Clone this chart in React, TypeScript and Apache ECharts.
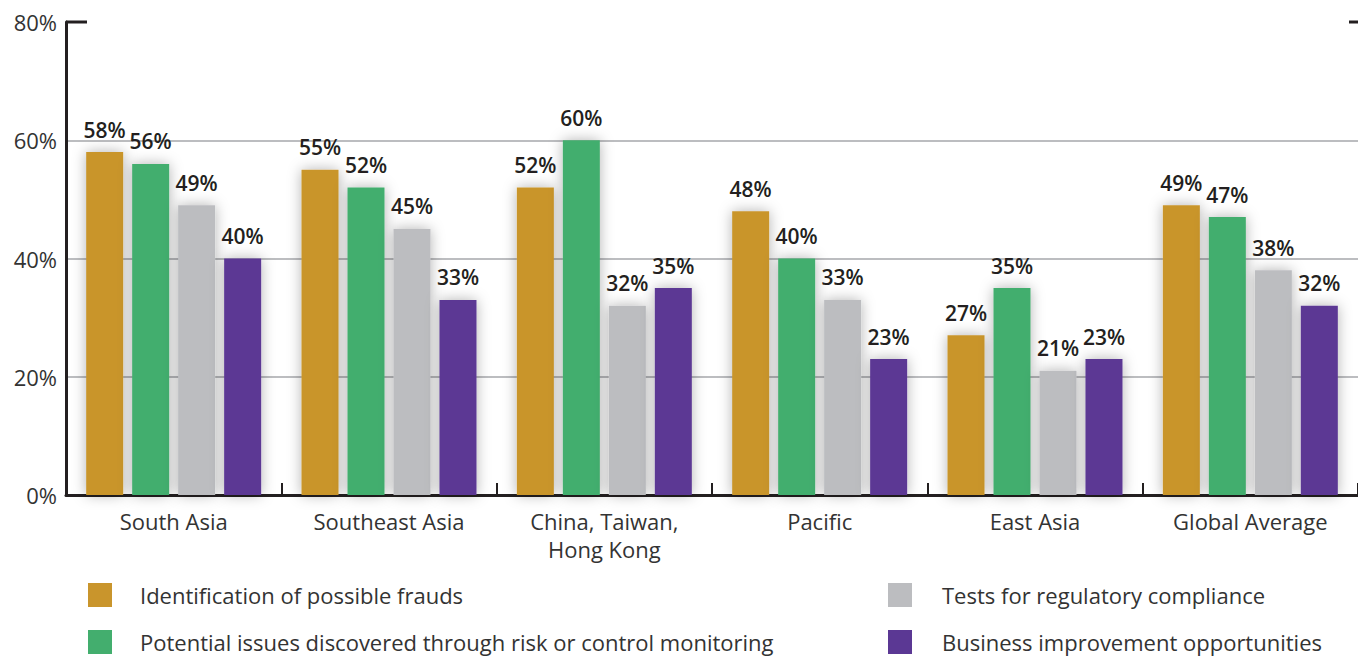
import React, { useEffect, useRef } from "react";
import * as echarts from "echarts";

const categories = ["South Asia", "Southeast Asia", "China, Taiwan,\nHong Kong", "Pacific", "East Asia", "Global Average"];
const seriesNames = [
  "Identification of possible frauds",
  "Potential issues discovered through risk or control monitoring",
  "Tests for regulatory compliance",
  "Business improvement opportunities",
];
const fraudValues = [58, 55, 52, 48, 27, 49];
const monitoringValues = [56, 52, 60, 40, 35, 47];
const complianceValues = [49, 45, 32, 33, 21, 38];
const businessValues = [40, 33, 35, 23, 23, 32];
const yTicks = [0, 20, 40, 60, 80];

const colors = ["#C9952C", "#43AE6E", "#BCBDC0", "#5B3894"];
const FONT = "'Open Sans', sans-serif";
const GRID_LEFT = 66;
const GRID_WIDTH = 1303;
const AXIS_COLOR = "#231f20";
const TEXT_COLOR = "#333";

export default function App() {
  const ref = useRef<HTMLDivElement>(null);
  useEffect(() => {
    if (!ref.current) return;
    const chart = echarts.init(ref.current, null, { renderer: "svg" });
    const values = [fraudValues, monitoringValues, complianceValues, businessValues];
    const series = values.map((v, i) => ({
      name: seriesNames[i],
      type: "bar",
      data: v,
      barWidth: 37,
      barGap: "24.3%",
      itemStyle: {
        color: colors[i],
        shadowBlur: 14,
        shadowColor: "rgba(0,0,0,0.3)",
      },
      label: {
        show: true,
        position: "top",
        distance: 12,
        formatter: "{c}%",
        fontFamily: FONT,
        fontWeight: 600,
        fontSize: 21,
        color: AXIS_COLOR,
      },
    }));
    const legendCommon = {
      orient: "vertical",
      top: 583,
      height: 120,
      padding: 0,
      itemWidth: 24,
      itemHeight: 24,
      itemGap: 23,
      icon: "rect",
    };
    chart.setOption({
      animation: false,
      textStyle: { fontFamily: FONT },
      grid: { left: GRID_LEFT, width: GRID_WIDTH, top: 22, bottom: 161, containLabel: false },
      legend: [
        {
          ...legendCommon,
          data: seriesNames.slice(0, 2),
          left: 88,
          textStyle: { fontFamily: FONT, fontSize: 22, lineHeight: 24, color: TEXT_COLOR, padding: [0, 0, 0, 23] },
        },
        {
          ...legendCommon,
          data: seriesNames.slice(2, 4),
          left: 888,
          textStyle: { fontFamily: FONT, fontSize: 22, lineHeight: 24, color: TEXT_COLOR, padding: [0, 0, 0, 25] },
        },
      ],
      xAxis: {
        type: "category",
        data: categories,
        axisLine: { show: true, lineStyle: { color: AXIS_COLOR, width: 3 } },
        axisTick: { show: true, inside: true, length: 12, lineStyle: { color: AXIS_COLOR, width: 2 } },
        axisLabel: { fontFamily: FONT, fontSize: 22, color: TEXT_COLOR, margin: 12, lineHeight: 28 },
        splitLine: { show: false },
      },
      yAxis: {
        type: "value",
        min: 0,
        max: 80,
        interval: 20,
        axisLine: { show: true, lineStyle: { color: AXIS_COLOR, width: 3 } },
        axisTick: { show: false },
        axisLabel: {
          formatter: (v: number) => (yTicks.includes(v) ? `${v}%` : ""),
          fontFamily: FONT,
          fontSize: 22,
          color: TEXT_COLOR,
          margin: 9,
        },
        splitLine: { show: true, showMaxLine: false, lineStyle: { color: "#BCBDC0", width: 2 } },
      },
      series,
    });
    const y80 = chart.convertToPixel({ yAxisIndex: 0 }, 80) as number;
    const right = GRID_LEFT + GRID_WIDTH;
    chart.setOption({
      graphic: [
        { type: "line", shape: { x1: GRID_LEFT, y1: y80, x2: GRID_LEFT + 21, y2: y80 }, style: { stroke: AXIS_COLOR, lineWidth: 3 }, z: 10 },
        { type: "line", shape: { x1: right - 20, y1: y80, x2: right, y2: y80 }, style: { stroke: AXIS_COLOR, lineWidth: 3 }, z: 10 },
      ],
    });
    return () => chart.dispose();
  }, []);
  return <div ref={ref} style={{ position: "absolute", left: 0, top: 0, width: 1358, height: 656 }} />;
}
